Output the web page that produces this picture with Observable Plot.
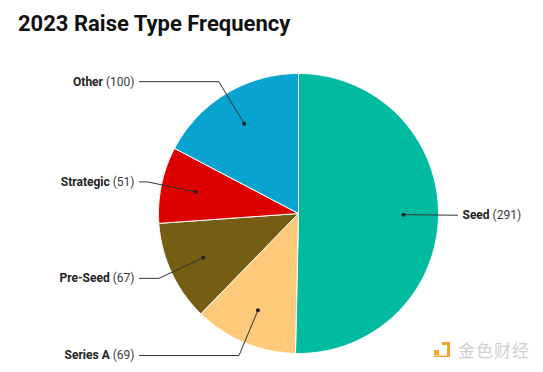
<!DOCTYPE html>
<html>
<head>
<meta charset="utf-8">
<script src="https://cdn.jsdelivr.net/npm/d3@7"></script>
<script src="https://cdn.jsdelivr.net/npm/@observablehq/plot@0.6"></script>
<style>
  html, body { margin: 0; padding: 0; background: #fff; }
  #wrap { position: relative; width: 543px; height: 372px; overflow: hidden; font-family: Roboto, sans-serif; }
  #title { height: 50px; box-sizing: border-box; padding: 11px 0 0 18px; font: bold 22px/26px Roboto, sans-serif; color: #111; }
  #wm { position: absolute; left: 433px; top: 340px; display: flex; align-items: center; gap: 5px; }
  #wm span { font: 17px/20px "Noto Sans CJK SC", sans-serif; color: #cfcfcf; letter-spacing: 1px; }
  svg { display: block; }
</style>
</head>
<body>
<div id="wrap">
  <div id="title">2023 Raise Type Frequency</div>
  <div id="chart"></div>
  <div id="wm">
    <svg width="20" height="18" viewBox="0 0 20 18"><rect x="1" y="9" width="5" height="5" fill="#F2A92B"/><path d="M9 1h8v15H1v-1.5h13V4H9z" fill="#F2A92B"/></svg>
    <span>金色财经</span>
  </div>
</div>
<script>
const categories = ["Seed", "Series A", "Pre-Seed", "Strategic", "Other"];
const counts = [291, 69, 67, 51, 100];
const colors = ["#00BBA0", "#FFC97A", "#755D13", "#DC0000", "#08A3CE"];

const W = 543, H = 322;
const cx = 298, cy = 163, R = 140;

const arcs = d3.pie().sort(null).value(d => d)(counts);
const px = (a, r) => cx + r * Math.sin(a);
const py = (a, r) => cy - r * Math.cos(a);

const slicePts = [];
arcs.forEach((a, i) => {
  const name = categories[i];
  slicePts.push({name, x: cx, y: cy});
  const n = Math.max(2, Math.ceil((a.endAngle - a.startAngle) / 0.01));
  for (let k = 0; k <= n; k++) {
    const t = a.startAngle + (a.endAngle - a.startAngle) * k / n;
    slicePts.push({name, x: px(t, R), y: py(t, R)});
  }
  slicePts.push({name, x: cx, y: cy});
});

const labels = arcs.map((a, i) => {
  const mid = (a.startAngle + a.endAngle) / 2;
  const right = Math.sin(mid) > 0.3;
  const ex = px(mid, R * 1.1), ey = py(mid, R * 1.1);
  return {
    name: categories[i], count: counts[i], right,
    dx: px(mid, R * 0.75), dy: py(mid, R * 0.75),
    ex, ey, endX: right ? cx + R + 19 : cx - R - 19
  };
});
const leaderPts = labels.flatMap(l => [
  {name: l.name, x: l.dx, y: l.dy},
  {name: l.name, x: l.ex, y: l.ey},
  {name: l.name, x: l.endX, y: l.ey}
]);

const plot = Plot.plot({
  width: W, height: H,
  margin: 0,
  x: {domain: [0, W], range: [0, W], axis: null},
  y: {domain: [0, H], range: [0, H], axis: null},
  color: {domain: categories, range: colors},
  style: {fontFamily: "Roboto, sans-serif", fontSize: "12px", background: "white"},
  marks: [
    Plot.line(slicePts, {x: "x", y: "y", z: "name", fill: "name", stroke: "white", strokeWidth: 1, curve: "linear"}),
    Plot.line(leaderPts, {x: "x", y: "y", z: "name", stroke: "#333", strokeWidth: 1}),
    Plot.dot(labels, {x: "dx", y: "dy", r: 2, fill: "#222", stroke: null}),
    Plot.text(labels.filter(l => !l.right), {x: d => d.endX - 5, y: "ey", text: d => `${d.name} (${d.count})`, textAnchor: "end", fill: "#222"}),
    Plot.text(labels.filter(l => l.right), {x: d => d.endX + 5, y: "ey", text: d => `${d.name} (${d.count})`, textAnchor: "start", fill: "#222"})
  ]
});
document.getElementById("chart").appendChild(plot);

// bold category name, regular count
plot.querySelectorAll("text").forEach(t => {
  const m = /^(.*) (\(\d+\))$/.exec(t.textContent);
  if (!m) return;
  t.textContent = "";
  const ns = "http://www.w3.org/2000/svg";
  const a = document.createElementNS(ns, "tspan");
  a.setAttribute("font-weight", "bold");
  a.textContent = m[1] + " ";
  const b = document.createElementNS(ns, "tspan");
  b.setAttribute("fill", "#3a3a3a");
  b.textContent = m[2];
  t.appendChild(a); t.appendChild(b);
});
</script>
</body>
</html>
